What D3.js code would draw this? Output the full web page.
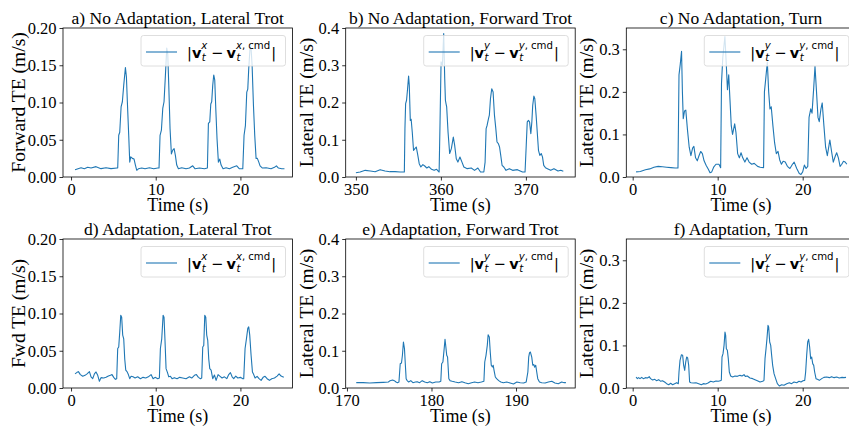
<!DOCTYPE html>
<html>
<head>
<meta charset="utf-8">
<script src="https://cdn.jsdelivr.net/npm/d3@7/dist/d3.min.js"></script>
<style>
  body { margin: 0; background: #ffffff; }
  svg { display: block; }
</style>
</head>
<body>
<div id="chart"></div>
<script>
// a) No Adaptation, Lateral Trot
const timeA = [
  0.47, 1.18, 1.57, 1.97, 2.36, 2.95, 3.54, 4.13, 4.72, 5.43,
  5.51, 5.63, 5.75, 5.91, 6.06, 6.22, 6.42, 6.54, 6.65, 6.81,
  6.93, 7.05, 7.24, 7.44, 7.60, 7.76, 7.95, 8.35, 8.74, 9.25,
  9.76, 10.24, 10.39, 10.51, 10.67, 10.83, 10.98, 11.14, 11.30, 11.42,
  11.54, 11.69, 11.85, 12.01, 12.17, 12.32, 12.48, 12.68, 13.07, 13.58,
  13.98, 14.37, 14.65, 15.16, 15.75, 16.10, 16.22, 16.38, 16.50, 16.61,
  16.73, 16.85, 16.97, 17.09, 17.24, 17.40, 17.56, 17.72, 17.95, 18.31,
  18.70, 19.09, 19.57, 19.88, 20.28, 20.43, 20.59, 20.75, 20.87, 20.98,
  21.14, 21.26, 21.38, 21.54, 21.69, 21.85, 22.00, 22.17, 22.32, 22.60,
  23.03, 23.62, 24.02, 24.25, 24.49, 24.88, 25.20
];
const errA = [
  0.0098, 0.0125, 0.0112, 0.0130, 0.0121, 0.0139, 0.0112, 0.0125, 0.0112, 0.0121,
  0.0120, 0.056, 0.060, 0.094, 0.101, 0.123, 0.147, 0.134, 0.101, 0.056,
  0.020, 0.027, 0.025, 0.024, 0.016, 0.009, 0.011, 0.012, 0.011, 0.0125,
  0.011, 0.012, 0.012, 0.056, 0.063, 0.092, 0.101, 0.136, 0.173, 0.165,
  0.123, 0.065, 0.031, 0.036, 0.038, 0.029, 0.016, 0.011, 0.0125, 0.011,
  0.012, 0.015, 0.011, 0.012, 0.011, 0.012, 0.072, 0.074, 0.098, 0.101,
  0.123, 0.137, 0.130, 0.092, 0.051, 0.020, 0.024, 0.016, 0.011, 0.0125,
  0.011, 0.013, 0.015, 0.011, 0.011, 0.056, 0.069, 0.114, 0.118, 0.145,
  0.174, 0.172, 0.150, 0.096, 0.056, 0.025, 0.025, 0.020, 0.015, 0.012,
  0.0125, 0.011, 0.013, 0.015, 0.012, 0.011, 0.011
];

// b) No Adaptation, Forward Trot
const timeB = [
  350.0, 350.5, 351.1, 351.7, 352.26, 352.85, 353.43, 354.0, 354.6, 355.2,
  355.7, 355.77, 355.85, 355.96, 356.08, 356.2, 356.28, 356.4, 356.5, 356.63,
  356.78, 356.94, 357.1, 357.25, 357.45, 357.64, 357.88, 358.1, 358.34, 358.58,
  358.9, 359.2, 359.5, 359.79, 359.9, 360.02, 360.18, 360.33, 360.45, 360.53,
  360.6, 360.68, 360.84, 361.03, 361.23, 361.46, 361.62, 361.81, 362.0, 362.24,
  362.48, 362.7, 363.1, 363.57, 363.96, 364.35, 364.66, 365.05, 365.2, 365.32,
  365.44, 365.6, 365.7, 365.83, 365.98, 366.14, 366.3, 366.46, 366.6, 366.76,
  366.9, 367.04, 367.2, 367.4, 367.66, 368.05, 368.44, 369.0, 369.6, 369.9,
  370.04, 370.16, 370.3, 370.43, 370.58, 370.7, 370.8, 370.94, 371.05, 371.2,
  371.36, 371.48, 371.64, 371.8, 371.95, 372.1, 372.3, 372.53, 372.92, 373.3,
  373.78, 374.1, 374.4
];
const errB = [
  0.0116, 0.0134, 0.0179, 0.0161, 0.0143, 0.0197, 0.0161, 0.0143, 0.0143, 0.0134,
  0.0134, 0.13, 0.197, 0.206, 0.237, 0.271, 0.246, 0.152, 0.155, 0.121,
  0.0716, 0.076, 0.0806, 0.0627, 0.0358, 0.0269, 0.0331, 0.0295, 0.0242, 0.0277,
  0.0206, 0.0179, 0.0206, 0.0134, 0.148, 0.309, 0.30, 0.385, 0.264, 0.206,
  0.197, 0.188, 0.121, 0.063, 0.076, 0.107, 0.085, 0.049, 0.040, 0.0537,
  0.040, 0.0269, 0.0224, 0.0242, 0.0179, 0.0242, 0.0134, 0.0134, 0.040, 0.13,
  0.139, 0.157, 0.166, 0.21, 0.237, 0.228, 0.166, 0.13, 0.094, 0.0895,
  0.0806, 0.058, 0.031, 0.0269, 0.0179, 0.0224, 0.0179, 0.0197, 0.0134, 0.0134,
  0.085, 0.148, 0.152, 0.148, 0.116, 0.148, 0.192, 0.217, 0.21, 0.166,
  0.112, 0.0716, 0.058, 0.063, 0.054, 0.031, 0.025, 0.0224, 0.0179, 0.0224,
  0.0161, 0.0179, 0.0152
];

// c) No Adaptation, Turn
const timeC = [
  0.4, 0.9, 1.5, 2.0, 2.5, 3.0, 3.5, 4.0, 4.5, 5.0,
  5.33, 5.45, 5.6, 5.75, 5.85, 5.95, 6.1, 6.25, 6.45, 6.65,
  6.85, 7.05, 7.2, 7.4, 7.6, 7.8, 8.0, 8.2, 8.4, 8.65,
  8.9, 9.1, 9.3, 9.55, 9.8, 10.15, 10.35, 10.45, 10.6, 10.85,
  11.0, 11.15, 11.3, 11.45, 11.6, 11.75, 12.0, 12.15, 12.35, 12.55,
  12.75, 12.95, 13.2, 13.45, 13.7, 14.0, 14.3, 14.7, 15.0, 15.4,
  15.5, 15.65, 15.84, 16.0, 16.15, 16.3, 16.5, 16.7, 16.9, 17.1,
  17.3, 17.5, 17.7, 17.95, 18.2, 18.5, 18.8, 19.0, 19.3, 19.6,
  19.8, 20.0, 20.2, 20.4, 20.6, 20.75, 20.95, 21.1, 21.3, 21.45,
  21.6, 21.8, 21.95, 22.15, 22.3, 22.5, 22.7, 22.9, 23.1, 23.2,
  23.4, 23.6, 23.85, 24.0, 24.2, 24.4, 24.6, 24.8, 25.0, 25.2
];
const errC = [
  0.012, 0.013, 0.017, 0.019, 0.023, 0.025, 0.024, 0.023, 0.022, 0.021,
  0.021, 0.24, 0.265, 0.295, 0.2, 0.137, 0.155, 0.157, 0.11, 0.07,
  0.05, 0.068, 0.072, 0.045, 0.038, 0.05, 0.06, 0.055, 0.038, 0.027,
  0.018, 0.01, 0.012, 0.024, 0.03, 0.03, 0.022, 0.22, 0.28, 0.33,
  0.27, 0.205, 0.24, 0.18, 0.12, 0.1, 0.125, 0.105, 0.055, 0.045,
  0.057, 0.045, 0.035, 0.045, 0.035, 0.03, 0.032, 0.025, 0.023, 0.022,
  0.2, 0.23, 0.27, 0.2, 0.16, 0.165, 0.12, 0.08, 0.055, 0.06,
  0.04, 0.03, 0.037, 0.035, 0.025, 0.02, 0.03, 0.035, 0.02, 0.008,
  0.006, 0.012, 0.028, 0.02, 0.025, 0.14, 0.16, 0.15, 0.21, 0.26,
  0.21, 0.14, 0.13, 0.16, 0.174, 0.12, 0.07, 0.05, 0.075, 0.087,
  0.06, 0.035, 0.05, 0.057, 0.045, 0.025, 0.03, 0.037, 0.035, 0.03
];

// d) Adaptation, Lateral Trot
const timeD = [
  0.47, 0.71, 0.87, 1.1, 1.38, 1.65, 1.89, 2.17, 2.36, 2.56,
  2.76, 2.95, 3.15, 3.35, 3.54, 3.86, 4.13, 4.41, 4.65, 4.84,
  5.04, 5.24, 5.39, 5.51, 5.63, 5.75, 5.87, 5.98, 6.1, 6.22,
  6.34, 6.46, 6.61, 6.77, 6.93, 7.09, 7.32, 7.56, 7.87, 8.19,
  8.5, 8.82, 9.13, 9.45, 9.69, 9.92, 10.24, 10.43, 10.55, 10.71,
  10.87, 10.98, 11.1, 11.22, 11.38, 11.54, 11.73, 11.93, 12.2, 12.52,
  12.83, 13.19, 13.58, 13.98, 14.25, 14.57, 14.8, 15.04, 15.28, 15.43,
  15.55, 15.67, 15.79, 15.91, 16.02, 16.14, 16.26, 16.38, 16.54, 16.73,
  16.93, 17.13, 17.36, 17.6, 17.83, 18.11, 18.39, 18.62, 18.82, 19.02,
  19.21, 19.45, 19.69, 20.0, 20.28, 20.39, 20.55, 20.71, 20.87, 20.98,
  21.1, 21.26, 21.42, 21.57, 21.73, 21.97, 22.2, 22.44, 22.68, 22.91,
  23.15, 23.43, 23.7, 24.02, 24.33, 24.57, 24.8, 25.12
];
const errD = [
  0.019, 0.021, 0.022, 0.018, 0.0157, 0.017, 0.019, 0.022, 0.015, 0.0125,
  0.019, 0.0215, 0.017, 0.009, 0.0139, 0.0134, 0.0143, 0.016, 0.017, 0.018,
  0.0143, 0.0116, 0.0125, 0.053, 0.055, 0.075, 0.0975, 0.095, 0.071, 0.066,
  0.039, 0.024, 0.022, 0.018, 0.0125, 0.0157, 0.015, 0.0134, 0.015, 0.0125,
  0.0143, 0.0134, 0.015, 0.018, 0.0125, 0.0143, 0.0125, 0.0134, 0.053, 0.066,
  0.0975, 0.095, 0.062, 0.026, 0.021, 0.015, 0.0157, 0.0125, 0.0139, 0.0125,
  0.0143, 0.0134, 0.0125, 0.015, 0.0134, 0.017, 0.018, 0.0143, 0.0125, 0.0134,
  0.055, 0.057, 0.0975, 0.095, 0.071, 0.064, 0.039, 0.026, 0.024, 0.0125,
  0.0175, 0.0103, 0.018, 0.0157, 0.0134, 0.015, 0.0125, 0.018, 0.0206, 0.015,
  0.0125, 0.016, 0.0134, 0.0143, 0.0125, 0.0125, 0.053, 0.066, 0.08, 0.082,
  0.071, 0.044, 0.0215, 0.018, 0.0134, 0.0157, 0.0125, 0.0103, 0.0143, 0.0157,
  0.0125, 0.0103, 0.0125, 0.0134, 0.016, 0.019, 0.016, 0.0143
];

// e) Adaptation, Forward Trot
const timeE = [
  171.1, 171.9, 172.7, 173.5, 174.3, 174.9, 175.1, 175.4, 175.6, 175.8,
  175.97, 176.15, 176.3, 176.45, 176.56, 176.68, 176.8, 176.9, 177.0, 177.1,
  177.3, 177.55, 177.8, 178.1, 178.3, 178.6, 178.9, 179.2, 179.5, 179.8,
  180.1, 180.5, 180.9, 181.1, 181.2, 181.35, 181.5, 181.6, 181.7, 181.8,
  181.9, 182.05, 182.2, 182.45, 182.8, 183.2, 183.6, 183.95, 184.35, 184.74,
  185.1, 185.5, 185.9, 186.2, 186.3, 186.45, 186.6, 186.7, 186.84, 186.95,
  187.07, 187.2, 187.3, 187.4, 187.55, 187.7, 187.95, 188.2, 188.5, 188.9,
  189.3, 189.7, 190.1, 190.5, 190.9, 191.2, 191.4, 191.5, 191.6, 191.7,
  191.86, 191.98, 192.1, 192.2, 192.33, 192.45, 192.57, 192.77, 193.04, 193.44,
  193.83, 194.23, 194.6, 195.0, 195.4, 195.7, 195.9
];
const errE = [
  0.0143, 0.0143, 0.0134, 0.0143, 0.0152, 0.016, 0.0197, 0.0215, 0.0197, 0.016,
  0.0143, 0.016, 0.065, 0.067, 0.088, 0.1235, 0.106, 0.065, 0.025, 0.0206,
  0.016, 0.0197, 0.0143, 0.016, 0.017, 0.0143, 0.0197, 0.016, 0.0143, 0.017,
  0.0134, 0.016, 0.016, 0.0179, 0.065, 0.0698, 0.1056, 0.1307, 0.11, 0.0877,
  0.083, 0.025, 0.0197, 0.0179, 0.016, 0.0143, 0.017, 0.0143, 0.0116, 0.0143,
  0.016, 0.0143, 0.016, 0.0179, 0.0698, 0.0877, 0.1145, 0.143, 0.137, 0.0966,
  0.061, 0.0564, 0.061, 0.0474, 0.0295, 0.025, 0.0197, 0.016, 0.0143, 0.016,
  0.0134, 0.0107, 0.016, 0.0143, 0.0134, 0.016, 0.043, 0.083, 0.095, 0.0966,
  0.083, 0.061, 0.063, 0.056, 0.061, 0.043, 0.025, 0.016, 0.0143, 0.0134,
  0.016, 0.0179, 0.0134, 0.0116, 0.016, 0.0143, 0.0143
];

// f) Adaptation, Turn
const timeF = [
  0.4, 0.55, 0.7, 0.86, 1.06, 1.25, 1.5, 1.73, 1.96, 2.1,
  2.35, 2.6, 2.8, 3.06, 3.3, 3.5, 3.76, 4.0, 4.24, 4.47,
  4.7, 4.94, 5.18, 5.37, 5.45, 5.57, 5.73, 5.88, 6.0, 6.12,
  6.24, 6.35, 6.47, 6.59, 6.7, 6.86, 7.14, 7.45, 7.76, 8.08,
  8.31, 8.59, 8.86, 9.18, 9.49, 9.8, 10.08, 10.31, 10.43, 10.51,
  10.63, 10.75, 10.86, 10.94, 11.02, 11.14, 11.25, 11.37, 11.53, 11.76,
  12.04, 12.31, 12.63, 12.86, 13.1, 13.25, 13.49, 13.8, 14.12, 14.39,
  14.67, 14.98, 15.3, 15.45, 15.57, 15.69, 15.8, 15.92, 16.0, 16.12,
  16.24, 16.35, 16.47, 16.63, 16.82, 17.02, 17.25, 17.53, 17.8, 18.12,
  18.43, 18.7, 18.98, 19.3, 19.57, 19.8, 20.04, 20.24, 20.35, 20.47,
  20.59, 20.7, 20.82, 20.94, 21.06, 21.18, 21.3, 21.41, 21.57, 21.73,
  21.96, 22.24, 22.5, 22.82, 23.14, 23.4, 23.7, 24.0, 24.3, 24.63,
  24.86, 25.1
];
const errF = [
  0.0258, 0.022, 0.0243, 0.022, 0.025, 0.022, 0.0243, 0.0235, 0.0266, 0.022,
  0.0188, 0.0204, 0.0172, 0.0196, 0.0157, 0.0172, 0.0141, 0.0102, 0.0078, 0.011,
  0.0078, 0.0102, 0.0125, 0.0102, 0.0376, 0.065, 0.078, 0.0767, 0.053, 0.0415,
  0.061, 0.0728, 0.0705, 0.053, 0.0141, 0.0125, 0.0117, 0.0125, 0.0102, 0.0078,
  0.0102, 0.0094, 0.0117, 0.0157, 0.0141, 0.0164, 0.0157, 0.0172, 0.018, 0.0728,
  0.0806, 0.1002, 0.1315, 0.1237, 0.0924, 0.0885, 0.0689, 0.0376, 0.0282, 0.0258,
  0.0282, 0.0274, 0.0297, 0.0282, 0.0313, 0.0274, 0.0282, 0.0235, 0.022, 0.0196,
  0.0172, 0.0141, 0.0157, 0.018, 0.0689, 0.0924, 0.1159, 0.1472, 0.1433, 0.108,
  0.1002, 0.0767, 0.0532, 0.0337, 0.022, 0.0102, 0.0047, 0.0078, 0.0063, 0.0102,
  0.0125, 0.0102, 0.0141, 0.0125, 0.0157, 0.0141, 0.0172, 0.018, 0.0376, 0.0767,
  0.108, 0.1143, 0.0963, 0.0689, 0.0728, 0.0572, 0.0532, 0.0376, 0.022, 0.0204,
  0.018, 0.022, 0.025, 0.0258, 0.0243, 0.0266, 0.0243, 0.0258, 0.0235, 0.025,
  0.0243, 0.025
];

// titles, labels, ticks
const titles = [
  'a) No Adaptation, Lateral Trot', 'b) No Adaptation, Forward Trot', 'c) No Adaptation, Turn',
  'd) Adaptation, Lateral Trot', 'e) Adaptation, Forward Trot', 'f) Adaptation, Turn'
];
const yLabels = [
  'Forward TE (m/s)', 'Lateral TE (m/s)', 'Lateral TE (m/s)',
  'Fwd TE (m/s)', 'Lateral TE (m/s)', 'Lateral TE (m/s)'
];
const legendAxis = ['x', 'y', 'y', 'x', 'y', 'y'];
const xTicksTime = [0, 10, 20];
const xTicksB = [350, 360, 370];
const xTicksE = [170, 180, 190];
const yTicksFwd = [0, 0.05, 0.10, 0.15, 0.20];
const yTicksLat = [0, 0.1, 0.2, 0.3, 0.4];
const yTicksTurn = [0, 0.1, 0.2, 0.3];

const panels = [
  { time: timeA, err: errA, xDom: [-0.95, 26.15], yDom: [0, 0.2], xt: xTicksTime, yt: yTicksFwd, yf: '.2f' },
  { time: timeB, err: errB, xDom: [348.8, 375.8], yDom: [0, 0.4], xt: xTicksB, yt: yTicksLat, yf: '.1f' },
  { time: timeC, err: errC, xDom: [-0.75, 26.25], yDom: [0, 0.35], xt: xTicksTime, yt: yTicksTurn, yf: '.1f' },
  { time: timeD, err: errD, xDom: [-0.95, 26.15], yDom: [0, 0.2], xt: xTicksTime, yt: yTicksFwd, yf: '.2f' },
  { time: timeE, err: errE, xDom: [169.85, 197.0], yDom: [0, 0.4], xt: xTicksE, yt: yTicksLat, yf: '.1f' },
  { time: timeF, err: errF, xDom: [-0.75, 26.25], yDom: [0, 0.35], xt: xTicksTime, yt: yTicksTurn, yf: '.1f' }
];

const serif = '"Liberation Serif", "Times New Roman", serif';
const sans = '"DejaVu Sans", sans-serif';
const lineColor = '#1f77b4';

const colLeft = [63, 345.7, 626.3];
const rowTop = [28, 239];
const plotW = 229.5;
const plotH = 149;

const svg = d3.select('#chart')
  .append('svg')
  .attr('width', 849)
  .attr('height', 426);

// draws |v_t^a - v_t^{a,cmd}| as separate pieces
function drawMath(g, x0, y0, a) {
  let cx = x0;
  const size = 14.5, small = 10.2;
  function put(str, x, dy, fs, opts) {
    const t = g.append('text')
      .attr('x', x)
      .attr('y', y0 + dy)
      .attr('font-family', sans)
      .attr('font-size', fs)
      .attr('font-weight', opts.bold ? 'bold' : 'normal')
      .attr('font-style', opts.italic ? 'italic' : 'normal')
      .attr('fill', '#000')
      .text(str);
    return t.node().getComputedTextLength();
  }
  function scripts(sup) {
    let sx = cx;
    sup.forEach(s => { sx += put(s[0], sx, -9.5, small, s[1]) + (s[2] || 0); });
    const w2 = put('t', cx + 0.5, 2.5, small, { italic: true });
    cx = Math.max(sx, cx + w2);
  }
  cx += put('|', cx, 0, size, {});
  cx += put('v', cx, 0, size, { bold: true });
  scripts([[a, { italic: true }]]);
  cx += 3.5;
  cx += put('\u2212', cx, 0, size, {});
  cx += 3.5;
  cx += put('v', cx, 0, size, { bold: true });
  scripts([[a, { italic: true }], [',', {}, 3], ['cmd', {}]]);
  cx += 1;
  put('|', cx, 0, size, {});
}

panels.forEach((p, i) => {
  const left = colLeft[i % 3];
  const top = rowTop[Math.floor(i / 3)];
  const g = svg.append('g').attr('transform', `translate(${left},${top})`);

  const x = d3.scaleLinear().domain(p.xDom).range([0, plotW]);
  const y = d3.scaleLinear().domain(p.yDom).range([plotH, 0]);

  // the error trace
  g.append('path')
    .datum(d3.zip(p.time, p.err))
    .attr('fill', 'none')
    .attr('stroke', lineColor)
    .attr('stroke-width', 1.1)
    .attr('stroke-linejoin', 'round')
    .attr('d', d3.line().x(d => x(d[0])).y(d => y(d[1])));

  // axes
  const xAxis = d3.axisBottom(x)
    .tickValues(p.xt)
    .tickSizeInner(3.5)
    .tickSizeOuter(0)
    .tickPadding(2.5)
    .tickFormat(d3.format('d'));
  const yAxis = d3.axisLeft(y)
    .tickValues(p.yt)
    .tickSizeInner(3.5)
    .tickSizeOuter(0)
    .tickPadding(3)
    .tickFormat(d3.format(p.yf));

  const xg = g.append('g').attr('transform', `translate(0,${plotH})`).call(xAxis);
  const yg = g.append('g').call(yAxis);
  [xg, yg].forEach(ax => {
    ax.select('.domain').remove();
    ax.selectAll('line').attr('stroke', '#000').attr('stroke-width', 0.8);
    ax.selectAll('text')
      .attr('font-family', serif)
      .attr('font-size', 16.5)
      .attr('fill', '#000');
  });

  // frame
  g.append('rect')
    .attr('width', plotW)
    .attr('height', plotH)
    .attr('fill', 'none')
    .attr('stroke', '#000')
    .attr('stroke-width', 0.8);

  // title
  g.append('text')
    .attr('x', plotW / 2)
    .attr('y', -4.5)
    .attr('text-anchor', 'middle')
    .attr('font-family', serif)
    .attr('font-size', 17.5)
    .text(titles[i]);

  // x label
  g.append('text')
    .attr('x', plotW / 2)
    .attr('y', plotH + 33.5)
    .attr('text-anchor', 'middle')
    .attr('font-family', serif)
    .attr('font-size', 18)
    .text('Time (s)');

  // y label
  const yOff = (i % 3 === 0) ? -38.5 : -33;
  g.append('text')
    .attr('transform', `translate(${yOff},${plotH / 2}) rotate(-90)`)
    .attr('text-anchor', 'middle')
    .attr('font-family', serif)
    .attr('font-size', 19.5)
    .text(yLabels[i]);

  // legend
  const lw = 144.5, lh = 30.5;
  const lx = plotW - 7 - lw, ly = 7.5;
  const leg = g.append('g').attr('transform', `translate(${lx},${ly})`);
  leg.append('rect')
    .attr('width', lw)
    .attr('height', lh)
    .attr('rx', 2.5)
    .attr('fill', '#fff')
    .attr('fill-opacity', 0.8)
    .attr('stroke', '#d6d6d6')
    .attr('stroke-width', 0.8);
  leg.append('line')
    .attr('x1', 5)
    .attr('x2', 36)
    .attr('y1', 16.5)
    .attr('y2', 16.5)
    .attr('stroke', lineColor)
    .attr('stroke-width', 1.1);
  drawMath(leg, 46, 22.5, legendAxis[i]);
});
</script>
</body>
</html>
